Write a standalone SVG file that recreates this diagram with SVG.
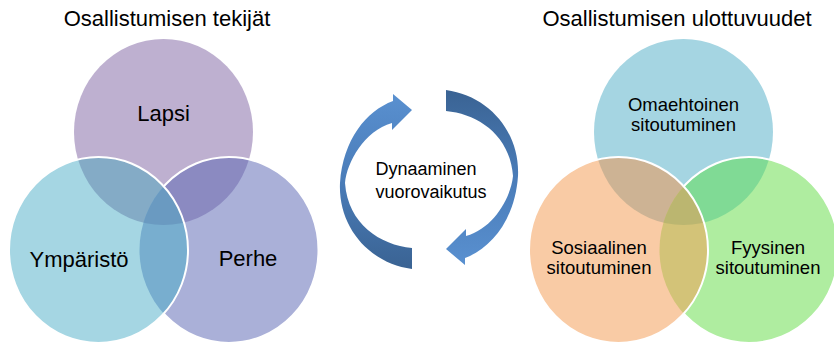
<svg xmlns="http://www.w3.org/2000/svg" width="834" height="344" viewBox="0 0 834 344">
<style>
  text { font-family: "Liberation Sans", Arial, sans-serif; fill: #000; }
  .title { font-size: 22px; text-anchor: middle; }
  .lbl { font-size: 22px; text-anchor: middle; }
  .lbl2 { font-size: 18.5px; text-anchor: middle; }
  .mid { font-size: 18px; }
  .edge { fill: none; stroke: #fff; stroke-width: 2; }
</style>
<defs>
  <clipPath id="cLA"><ellipse cx="163.5" cy="132" rx="89.5" ry="93"/></clipPath>
  <clipPath id="cLC"><ellipse cx="229" cy="250" rx="89.5" ry="93"/></clipPath>
  <clipPath id="cRA"><ellipse cx="683.5" cy="132" rx="89.5" ry="93"/></clipPath>
  <clipPath id="cRC"><ellipse cx="749" cy="250" rx="89.5" ry="93"/></clipPath>
  <linearGradient id="arrowGrad" x1="0" y1="0" x2="0" y2="1">
    <stop offset="0" stop-color="#5990D0"/>
    <stop offset="0.5" stop-color="#4A7CB8"/>
    <stop offset="1" stop-color="#3A6393"/>
  </linearGradient>
  <path id="cycArrow" d="M 412,110 L 393,94 L 393,101 C 366,111 343,140 340,183 C 338,226 368,263 412,269 L 412,248 C 380,245 348,224 345,183 C 347,162 364,131 392,123 L 392,130 Z"/>
</defs>

<text class="title" x="167" y="26">Osallistumisen tekijät</text>
<text class="title" x="677" y="26">Osallistumisen ulottuvuudet</text>

<!-- Left Venn -->
<g id="venn-left">
  <g id="lapsi">
    <ellipse cx="163.5" cy="132" rx="89.5" ry="93" fill="#BEB0D0"/>
  </g>
  <g id="perhe">
    <ellipse cx="229" cy="250" rx="89.5" ry="93" fill="#AAB0D8"/>
    <ellipse cx="229" cy="250" rx="89.5" ry="93" fill="#8B8AC1" clip-path="url(#cLA)"/>
    <ellipse class="edge" cx="229" cy="250" rx="89.5" ry="93"/>
  </g>
  <g id="ymparisto">
    <ellipse cx="98.5" cy="250" rx="89.5" ry="93" fill="#A5D6E3"/>
    <ellipse cx="98.5" cy="250" rx="89.5" ry="93" fill="#84ABC6" clip-path="url(#cLA)"/>
    <ellipse cx="98.5" cy="250" rx="89.5" ry="93" fill="#78AECF" clip-path="url(#cLC)"/>
    <g clip-path="url(#cLA)">
      <ellipse cx="98.5" cy="250" rx="89.5" ry="93" fill="#6A9AC1" clip-path="url(#cLC)"/>
    </g>
    <ellipse class="edge" cx="98.5" cy="250" rx="89.5" ry="93"/>
  </g>
  <text class="lbl" x="163.5" y="121">Lapsi</text>
  <text class="lbl" x="79" y="267">Ympäristö</text>
  <text class="lbl" x="248" y="266">Perhe</text>
</g>

<!-- Cycle arrows -->
<g id="connectors">
  <use href="#cycArrow" fill="url(#arrowGrad)"/>
  <use href="#cycArrow" fill="url(#arrowGrad)" transform="rotate(180 429 179.5)"/>
</g>
<g id="center-label">
  <text class="mid" x="375.5" y="175">Dynaaminen</text>
  <text class="mid" x="375.5" y="198">vuorovaikutus</text>
</g>

<!-- Right Venn -->
<g id="venn-right">
  <g id="omaehtoinen">
    <ellipse cx="683.5" cy="132" rx="89.5" ry="93" fill="#A5D5E2"/>
  </g>
  <g id="fyysinen">
    <ellipse cx="749" cy="250" rx="89.5" ry="93" fill="#AFEDA0"/>
    <ellipse cx="749" cy="250" rx="89.5" ry="93" fill="#80DA95" clip-path="url(#cRA)"/>
    <ellipse class="edge" cx="749" cy="250" rx="89.5" ry="93"/>
  </g>
  <g id="sosiaalinen">
    <ellipse cx="618.5" cy="250" rx="89.5" ry="93" fill="#F9CBA5"/>
    <ellipse cx="618.5" cy="250" rx="89.5" ry="93" fill="#CDB394" clip-path="url(#cRA)"/>
    <ellipse cx="618.5" cy="250" rx="89.5" ry="93" fill="#D3C378" clip-path="url(#cRC)"/>
    <g clip-path="url(#cRA)">
      <ellipse cx="618.5" cy="250" rx="89.5" ry="93" fill="#BBB670" clip-path="url(#cRC)"/>
    </g>
    <ellipse class="edge" cx="618.5" cy="250" rx="89.5" ry="93"/>
  </g>
  <text class="lbl2" x="683.5" y="111">Omaehtoinen</text>
  <text class="lbl2" x="683.5" y="131">sitoutuminen</text>
  <text class="lbl2" x="599" y="254">Sosiaalinen</text>
  <text class="lbl2" x="599" y="274">sitoutuminen</text>
  <text class="lbl2" x="768" y="254">Fyysinen</text>
  <text class="lbl2" x="768" y="274">sitoutuminen</text>
</g>
</svg>
